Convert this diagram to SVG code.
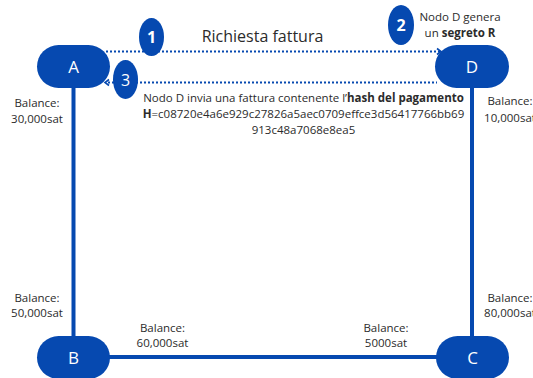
<svg xmlns="http://www.w3.org/2000/svg" width="533" height="378" viewBox="0 0 533 378">
  <style>
    .node { fill: #0649b0; }
    .nlabel { fill: #ffffff; font-family: "Open Sans", "Noto Sans", sans-serif; font-size: 17px; text-anchor: middle; }
    .step { fill: #0649b0; }
    .snum { fill: #ffffff; font-family: "Open Sans", "Noto Sans", sans-serif; font-size: 16px; text-anchor: middle; }
    .txt { fill: #2b2b2b; font-family: "Open Sans", "Noto Sans", sans-serif; font-size: 11.5px; text-anchor: middle; }
    .title { font-size: 16px; }
    .chan { stroke: #0649b0; stroke-width: 4; fill: none; }
    .msg { stroke: #0649b0; stroke-width: 2.2; fill: none; stroke-dasharray: 2 2; }
    .head { stroke: #0649b0; stroke-width: 1.6; fill: none; }
  </style>

  <!-- payment channels -->
  <g id="connectors">
    <line class="chan" x1="73.5" y1="86" x2="73.5" y2="340"/>
    <line class="chan" x1="472" y1="86" x2="472" y2="340"/>
    <line class="chan" x1="108" y1="357" x2="437" y2="357"/>
    <!-- invoice request A to D -->
    <line class="msg" x1="106" y1="51.5" x2="440" y2="51.5"/>
    <polyline class="head" points="437,48.5 441,51.5 437,54.5"/>
    <!-- invoice D to A -->
    <line class="msg" x1="108" y1="82.5" x2="437" y2="82.5"/>
    <polyline class="head" points="109,79.5 105,82.5 109,85.5"/>
  </g>

  <g id="node-A">
    <rect class="node" x="37" y="45" width="73" height="43" rx="21.5"/>
    <text class="nlabel" x="73.5" y="73">A</text>
  </g>
  <g id="node-D">
    <rect class="node" x="435" y="45" width="74" height="43" rx="21.5"/>
    <text class="nlabel" x="472" y="73">D</text>
  </g>
  <g id="node-B">
    <rect class="node" x="37" y="336" width="73" height="43" rx="21.5"/>
    <text class="nlabel" x="73.5" y="364">B</text>
  </g>
  <g id="node-C">
    <rect class="node" x="436" y="336" width="73" height="43" rx="21.5"/>
    <text class="nlabel" x="472.5" y="364">C</text>
  </g>

  <!-- step markers -->
  <g id="step-1">
    <ellipse class="step" cx="151.5" cy="37" rx="12.5" ry="19"/>
    <text class="snum" x="151.5" y="43" font-weight="bold">1</text>
  </g>
  <g id="step-2">
    <ellipse class="step" cx="401" cy="25" rx="13" ry="20"/>
    <text class="snum" x="401" y="31" font-weight="bold">2</text>
  </g>
  <g id="step-3">
    <ellipse class="step" cx="125.5" cy="79.5" rx="12.5" ry="19.5"/>
    <text class="snum" x="125.5" y="85.5">3</text>
  </g>

  <!-- messages -->
  <g id="label-request">
    <text class="txt title" x="262.5" y="41.5">Richiesta fattura</text>
  </g>
  <g id="label-secret">
    <text class="txt" x="460" y="21">Nodo D genera</text>
    <text class="txt" x="460" y="37">un <tspan font-weight="bold">segreto R</tspan></text>
  </g>
  <g id="label-invoice">
    <text class="txt" x="303.5" y="102">Nodo D invia una fattura contenente l’<tspan font-weight="bold">hash del pagamento</tspan></text>
    <text class="txt" x="303.5" y="118"><tspan font-weight="bold">H</tspan>=c08720e4a6e929c27826a5aec0709effce3d56417766bb69</text>
    <text class="txt" x="303.5" y="134">913c48a7068e8ea5</text>
  </g>

  <!-- channel balances -->
  <g id="balances">
    <text class="txt" x="37" y="107">Balance:</text>
    <text class="txt" x="37" y="123">30,000sat</text>
    <text class="txt" x="510" y="105">Balance:</text>
    <text class="txt" x="510" y="121.5">10,000sat</text>
    <text class="txt" x="37" y="301.5">Balance:</text>
    <text class="txt" x="37" y="317">50,000sat</text>
    <text class="txt" x="510" y="301.5">Balance:</text>
    <text class="txt" x="510" y="317">80,000sat</text>
    <text class="txt" x="162.5" y="331.5">Balance:</text>
    <text class="txt" x="162.5" y="347">60,000sat</text>
    <text class="txt" x="386" y="331.5">Balance:</text>
    <text class="txt" x="386" y="347">5000sat</text>
  </g>
</svg>
